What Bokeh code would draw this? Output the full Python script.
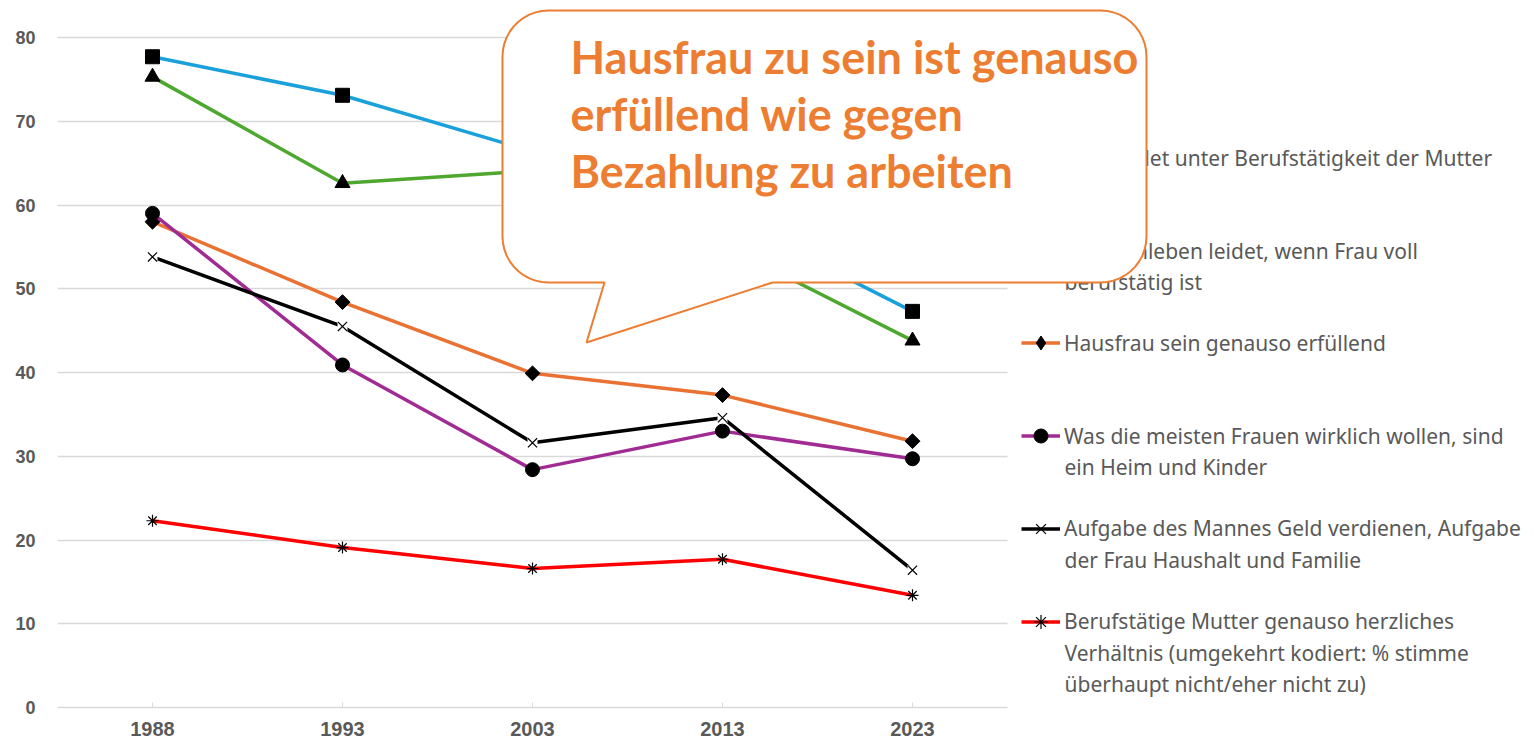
from bokeh.plotting import figure
from bokeh.models import (Range1d, Legend, LegendItem, PolyAnnotation, Label,
                          ColumnDataSource, FixedTicker)
from bokeh.embed import file_html
from bokeh.resources import INLINE
import numpy as np

# ---------------- data ----------------
years = ["1988", "1993", "2003", "2013", "2023"]

kind_leidet = [77.7, 73.1, 66.4, 58.8, 47.3]
familienleben = [75.3, 62.6, 64.1, 55.3, 43.8]
hausfrau = [58.0, 48.4, 39.9, 37.3, 31.8]
heim_kinder = [59.0, 40.9, 28.4, 33.0, 29.7]
mann_geld = [53.8, 45.5, 31.6, 34.6, 16.4]
herzlich = [22.3, 19.1, 16.6, 17.7, 13.4]

y_ticks = [0, 10, 20, 30, 40, 50, 60, 70, 80]

labels = [
    ["Kind leidet unter Berufstätigkeit der Mutter"],
    ["Familienleben leidet, wenn Frau voll", "berufstätig ist"],
    ["Hausfrau sein genauso erfüllend"],
    ["Was die meisten Frauen wirklich wollen, sind", "ein Heim und Kinder"],
    ["Aufgabe des Mannes Geld verdienen, Aufgabe", "der Frau Haushalt und Familie"],
    ["Berufstätige Mutter genauso herzliches", "Verhältnis (umgekehrt kodiert: % stimme",
     "überhaupt nicht/eher nicht zu)"],
]
callout_lines = ["Hausfrau zu sein ist genauso", "erfüllend wie gegen", "Bezahlung zu arbeiten"]

series = [kind_leidet, familienleben, hausfrau, heim_kinder, mann_geld, herzlich]
colors = ["#1AA0DA", "#4EA72E", "#E97132", "#A02B93", "#000000", "#FF0000"]

# ---------------- geometry (page px of the original) ----------------
W, H = 1534, 744
PA_LEFT, PA_RIGHT, PA_TOP, PA_BOTTOM = 57, 1007, 37, 707   # plot area of the original
F_TOP = 8                                                   # frame reaches up so the callout is not clipped
FW, FH = W - PA_LEFT, PA_BOTTOM - F_TOP
ncat = len(years)
px_per_cat = (PA_RIGHT - PA_LEFT) / ncat
px_per_unit = (PA_BOTTOM - PA_TOP) / y_ticks[-1]

xpos = [i + 0.5 for i in range(ncat)]

p = figure(x_range=Range1d(0, FW / px_per_cat), y_range=Range1d(0, FH / px_per_unit),
           frame_width=FW, frame_height=FH, output_backend="svg", toolbar_location=None,
           min_border_left=PA_LEFT, min_border_right=0, min_border_top=F_TOP,
           min_border_bottom=H - PA_BOTTOM,
           outline_line_color=None, background_fill_color="white")

p.xgrid.grid_line_color = None
p.ygrid.grid_line_color = "#D9D9D9"
p.ygrid.grid_line_width = 1.5
p.ygrid.cross_bounds = (0, ncat)

p.yaxis.ticker = FixedTicker(ticks=y_ticks)
p.yaxis.axis_line_color = None
p.yaxis.major_tick_line_color = None
p.yaxis.minor_tick_line_color = None
p.yaxis.major_label_standoff = 16
p.yaxis.major_label_text_font_size = "18px"

p.xaxis.ticker = FixedTicker(ticks=xpos)
p.xaxis.major_label_overrides = {x: y for x, y in zip(xpos, years)}
p.xaxis.bounds = (0, ncat)
p.xaxis.axis_line_color = "#D9D9D9"
p.xaxis.axis_line_width = 1.5
p.xaxis.major_tick_line_color = "#D9D9D9"
p.xaxis.minor_tick_line_color = None
p.xaxis.major_tick_in = 5
p.xaxis.major_tick_out = 0
p.xaxis.major_label_standoff = 14
p.xaxis.major_label_text_font_size = "20px"

for ax in (p.xaxis, p.yaxis):
    ax.major_label_text_font = "Liberation Sans"
    ax.major_label_text_font_style = "bold"
    ax.major_label_text_color = "#595959"

renderers = []
for k, (vals, col) in enumerate(zip(series, colors)):
    src = ColumnDataSource(dict(x=xpos, y=vals))
    lr = p.line("x", "y", source=src, line_color=col, line_width=3.5)
    if k == 0:
        sr = p.scatter("x", "y", source=src, marker="square", size=14, color="black")
    elif k == 1:
        sr = p.scatter("x", "y", source=src, marker="triangle", size=15, color="black")
    elif k == 2:
        # small diamond (used as legend key) hidden under the rotated square marker
        sr = p.scatter("x", "y", source=src, marker="diamond", size=9, color="black")
        p.scatter("x", "y", source=src, marker="square", angle=np.pi / 4, size=10.5, color="black")
    elif k == 3:
        sr = p.scatter("x", "y", source=src, marker="circle", size=14, color="black")
    elif k == 4:
        p.scatter("x", "y", source=src, marker="square", size=10, fill_color="white", line_color=None)
        sr = p.scatter("x", "y", source=src, marker="x", size=13, line_color="black", line_width=1.2)
    else:
        sr = p.scatter("x", "y", source=src, marker="asterisk", size=12, line_color="black", line_width=1.2)
    renderers.append((lr, sr))

# ---------------- legend (one per entry, evenly spaced as in the original) ----------------
# The first two entries lie under the callout in the original (keys hidden, text partly
# covered); Bokeh always paints legends on top, so their texts are plain labels below the callout.
LINE_H = 31
GLYPH_H = 35
first_line_y = 157.5
step = 92.7
LEG_X = 1021
TEXT_X = LEG_X + 39 + 4
N_COVERED = 2
for i, (lines, (lr, sr)) in enumerate(zip(labels, renderers)):
    c = first_line_y + step * i
    if i >= N_COVERED:
        leg = Legend(items=[LegendItem(label=lines[0], renderers=[lr, sr])],
                     location=(LEG_X - PA_LEFT, PA_BOTTOM - (c + GLYPH_H / 2)),
                     glyph_width=39, glyph_height=GLYPH_H, label_standoff=4, padding=0, margin=0,
                     spacing=0, border_line_color=None, background_fill_alpha=0,
                     label_text_font="Noto Sans", label_text_font_size="21px",
                     label_text_color="#595959", label_height=20)
        p.add_layout(leg)
        rest = list(enumerate(lines[1:], start=1))
    else:
        rest = list(enumerate(lines))
    for j, txt in rest:
        p.add_layout(Label(x=TEXT_X - PA_LEFT, y=PA_BOTTOM - (c + LINE_H * j),
                           x_units="screen", y_units="screen", text=txt,
                           text_font="Noto Sans", text_font_size="21px", text_color="#595959",
                           text_baseline="middle", level="underlay"))

# ---------------- callout (drawn on top, covering the start of the legend) ----------------
x0, x1, y0, y1, r = 502, 1146, 10, 282, 46
tail_r, tail_tip, tail_l = (772, y1), (586, 342), (604, y1)

def arc(cx, cy, a0, a1, n=12):
    t = np.linspace(np.radians(a0), np.radians(a1), n)
    return list(cx + r * np.cos(t)), list(cy + r * np.sin(t))

cx_, cy_ = [], []
for seg in [arc(x1 - r, y0 + r, -90, 0), arc(x1 - r, y1 - r, 0, 90)]:
    cx_ += seg[0]; cy_ += seg[1]
cx_ += [tail_r[0], tail_tip[0], tail_l[0]]
cy_ += [tail_r[1], tail_tip[1], tail_l[1]]
for seg in [arc(x0 + r, y1 - r, 90, 180), arc(x0 + r, y0 + r, 180, 270)]:
    cx_ += seg[0]; cy_ += seg[1]
p.add_layout(PolyAnnotation(xs=[v - PA_LEFT for v in cx_], ys=[PA_BOTTOM - v for v in cy_],
                            xs_units="screen", ys_units="screen",
                            fill_color="white", fill_alpha=1.0, line_alpha=1.0,
                            line_color="#ED7D31", line_width=2, level="overlay"))

for k, txt in enumerate(callout_lines):
    p.add_layout(Label(x=570 - PA_LEFT, y=PA_BOTTOM - (56 + 57 * k), x_units="screen",
                       y_units="screen", text=txt, text_font="Lato", text_font_style="bold",
                       text_font_size="45px", text_color="#ED7D31", text_baseline="alphabetic",
                       level="overlay"))

open("out.html", "w").write(file_html(p, INLINE))
